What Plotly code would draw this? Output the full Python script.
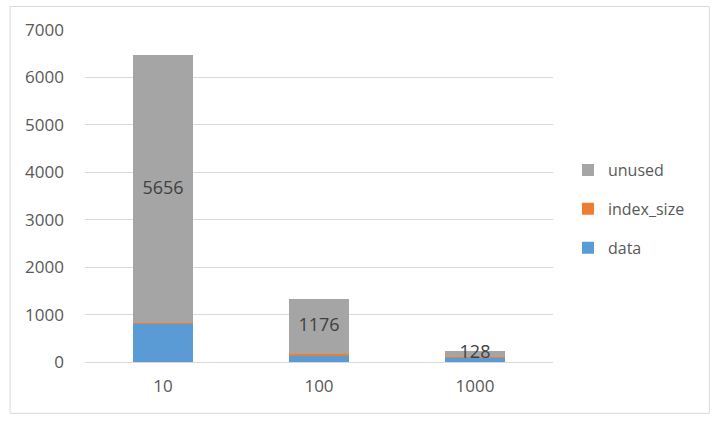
import plotly.graph_objects as go

categories = ["10", "100", "1000"]
data_vals = [810, 140, 100]
index_size_vals = [8, 20, 8]
unused_vals = [5656, 1176, 128]
y_ticks = [0, 1000, 2000, 3000, 4000, 5000, 6000, 7000]

BLUE = "#5B9BD5"
ORANGE = "#ED7D31"
GRAY = "#A5A5A5"
FONT = "Open Sans"

fig = go.Figure()
fig.add_trace(go.Bar(name="data", x=categories, y=data_vals, marker_color=BLUE,
                     marker_line_width=0, legendgroup="a", legendrank=3))
fig.add_trace(go.Bar(name="index_size", x=categories, y=index_size_vals, marker_color=ORANGE,
                     marker_line_width=0, legendgroup="b", legendrank=2))
fig.add_trace(go.Bar(name="unused", x=categories, y=unused_vals, marker_color=GRAY,
                     marker_line_width=0, legendgroup="c", legendrank=1))

# labels centered on the unused segment
label_y = [d + i + u / 2 for d, i, u in zip(data_vals, index_size_vals, unused_vals)]
fig.add_trace(go.Scatter(x=categories, y=label_y, mode="text", text=[str(u) for u in unused_vals],
                         textfont=dict(family=FONT, size=18, color="#404040"),
                         showlegend=False, hoverinfo="skip"))

L, R, T, B = 84.5, 553, 30, 361.7
W, H = 720, 422
px = lambda x: (x - L) / (R - L)
py = lambda y: (B - y) / (B - T)

fig.update_layout(
    width=W, height=H,
    barmode="stack", bargap=0.615,
    plot_bgcolor="white", paper_bgcolor="white",
    margin=dict(l=L, r=W - R, t=T, b=H - B, pad=0, autoexpand=False),
    font=dict(family=FONT, size=17, color="#595959"),
    legend=dict(x=px(568), y=py(209), xanchor="left", yanchor="middle",
                traceorder="grouped", tracegroupgap=15,
                font=dict(family=FONT, size=16, color="#595959"),
                itemwidth=30),
    xaxis=dict(showgrid=False, showline=False, ticks="", tickfont=dict(size=17),
               ticklabelstandoff=12),
    yaxis=dict(range=[0, 7000], tickvals=y_ticks, showgrid=True, gridcolor="#D9D9D9",
               gridwidth=1, zeroline=True, zerolinecolor="#D9D9D9", zerolinewidth=1,
               showline=False, ticks="", tickfont=dict(size=17), ticklabelstandoff=20),
    shapes=[dict(type="rect", xref="paper", yref="paper",
                 x0=px(9.5), x1=px(709.5), y0=py(413), y1=py(6.5),
                 line=dict(color="#D9D9D9", width=1), fillcolor="rgba(0,0,0,0)",
                 layer="below")],
)

fig.write_html("out.html", post_script="document.body.style.margin='0';",
               config={"displayModeBar": False})
